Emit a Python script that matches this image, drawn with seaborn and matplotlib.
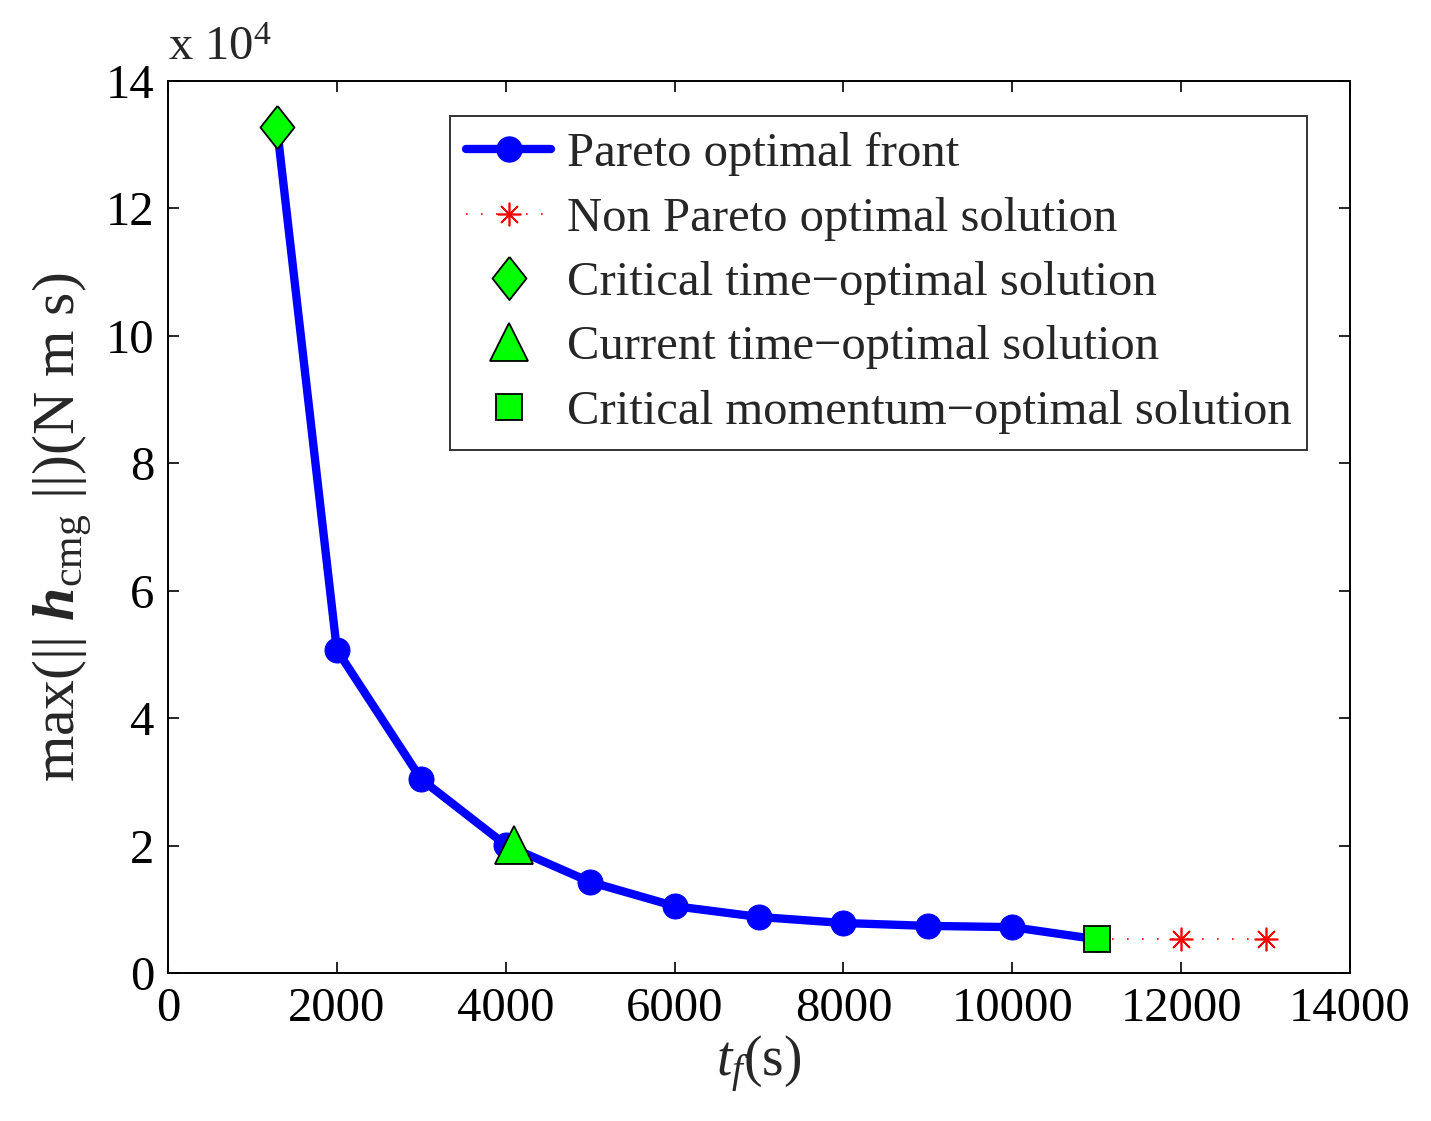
import matplotlib
matplotlib.use('Agg')
import matplotlib.pyplot as plt
from matplotlib.lines import Line2D
from matplotlib.ticker import FuncFormatter
import seaborn as sns

# Pareto front (t_f in s, max momentum in N m s)
tf_pareto = [1290, 2000, 3000, 4000, 5000, 6000, 7000, 8000, 9000, 10000, 11000]
h_pareto = [132800, 50700, 30400, 20100, 14300, 10500, 8800, 7850, 7400, 7200, 5300]

# non Pareto optimal solutions
tf_non = [11000, 12000, 13000]
h_non = [5300, 5300, 5300]

# highlighted solutions
crit_time = (1290, 132800)
curr_time = (4100, 20100)
crit_mom = (11000, 5300)

legend_labels = ['Pareto optimal front', 'Non Pareto optimal solution',
                 'Critical time\u2212optimal solution', 'Current time\u2212optimal solution',
                 'Critical momentum\u2212optimal solution']

sns.set_style('ticks')
plt.rcParams['font.family'] = ['Liberation Serif', 'DejaVu Serif']
plt.rcParams['mathtext.fontset'] = 'custom'
plt.rcParams['mathtext.rm'] = 'Liberation Serif'
plt.rcParams['mathtext.it'] = 'Liberation Serif:italic'
plt.rcParams['mathtext.bf'] = 'Liberation Serif:bold'
plt.rcParams['mathtext.bfit'] = 'Liberation Serif:bold:italic'

fig = plt.figure(figsize=(14.31, 11.21), dpi=100)
ax = fig.add_axes([0.1174, 0.1320, 0.8260, 0.7957])

diamond = [(0, 1), (0.79, 0), (0, -1), (-0.79, 0), (0, 1)]
green = '#00ff00'

sns.lineplot(x=tf_non, y=h_non, ax=ax, color='red', lw=1.2, linestyle=(0, (1, 8)),
             marker=(8, 2, 0), markersize=17, markeredgecolor='red', markeredgewidth=1.2,
             zorder=2)
sns.lineplot(x=tf_pareto, y=h_pareto, ax=ax, color='blue', lw=6, marker='o',
             markersize=18, markeredgecolor='blue', zorder=3)
ax.plot(*crit_time, marker=diamond, markersize=31, color=green, mec='black', mew=1.3,
        ls='none', zorder=5)
ax.plot(*curr_time, marker='^', markersize=27, color=green, mec='black', mew=1.3,
        ls='none', zorder=5)
ax.plot(*crit_mom, marker='s', markersize=19, color=green, mec='black', mew=1.3,
        ls='none', zorder=5)

ax.set_xlim(0, 14000)
ax.set_ylim(0, 140000)
ax.set_xticks(range(0, 14001, 2000))
ax.set_yticks(range(0, 140001, 20000))
ax.yaxis.set_major_formatter(FuncFormatter(lambda v, p: '%d' % round(v / 1e4)))
ax.tick_params(direction='in', length=8, width=1.2, labelsize=35, top=True, right=True,
               pad=10, colors='black')
for s in ax.spines.values():
    s.set_visible(True)
    s.set_linewidth(1.4)
    s.set_color('black')

ax.text(0.0, 1.012, r'x 10$^4$', transform=ax.transAxes, fontsize=35, ha='left', va='bottom')

ax.set_xlabel(r'$t_f$(s)', fontsize=40, labelpad=2)
ax.set_ylabel(r'max(|| $\mathbfit{h}_{\mathrm{cmg}}$ ||)(N m s)', fontsize=43, labelpad=8)

handles = [
    Line2D([], [], color='blue', lw=6, marker='o', markersize=18),
    Line2D([], [], color='red', lw=1.2, ls=(0, (1, 8)), marker=(8, 2, 0), markersize=17, mew=1.2),
    Line2D([], [], ls='none', marker=diamond, markersize=31, color=green, mec='black', mew=1.3),
    Line2D([], [], ls='none', marker='^', markersize=27, color=green, mec='black', mew=1.3),
    Line2D([], [], ls='none', marker='s', markersize=19, color=green, mec='black', mew=1.3),
]
leg = ax.legend(handles, legend_labels, loc='upper left', bbox_to_anchor=(0.2386, 0.9608),
                borderaxespad=0, fontsize=35, frameon=True, fancybox=False,
                edgecolor='black', handlelength=1.75, handletextpad=0.32,
                labelspacing=0.42, borderpad=0.33)
leg.get_frame().set_linewidth(1.4)

fig.savefig('out.png', dpi=100, facecolor='white')
